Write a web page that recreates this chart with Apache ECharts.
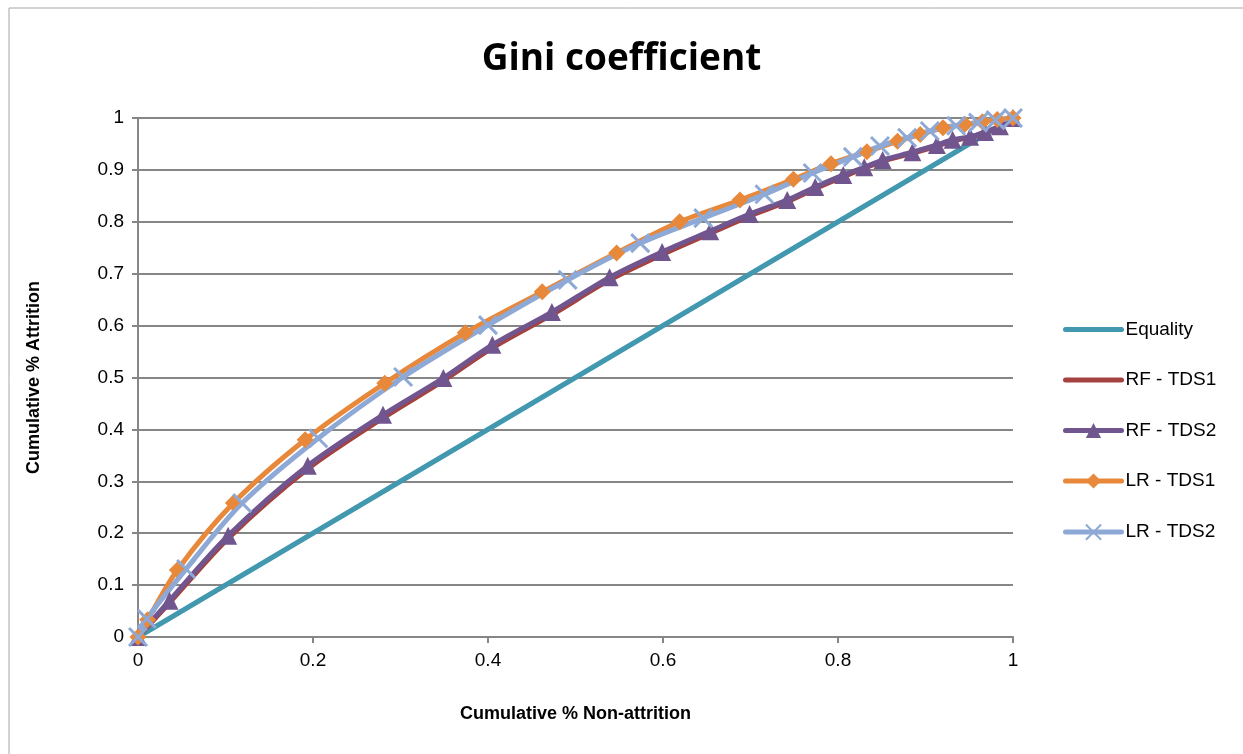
<!DOCTYPE html>
<html>
<head>
<meta charset="utf-8">
<script src="https://cdn.jsdelivr.net/npm/echarts@6/dist/echarts.min.js"></script>
<style>
  html, body { margin: 0; padding: 0; background: #fff; }
  #chart { width: 1243px; height: 754px; }
</style>
</head>
<body>
<div id="chart"></div>
<script>
// values: [cumulative % non-attrition, cumulative % attrition]
var equality = [[0, 0], [1, 1]];
var rfTds1 = [[0,0],[0.036,0.066],[0.103,0.19],[0.194,0.324],[0.28,0.422],[0.349,0.494],[0.405,0.557],[0.473,0.621],[0.539,0.688],[0.599,0.737],[0.654,0.778],[0.699,0.811],[0.742,0.839],[0.774,0.864],[0.806,0.887],[0.83,0.903],[0.851,0.917],[0.885,0.932],[0.913,0.946],[0.931,0.956],[0.951,0.963],[0.968,0.972],[0.985,0.983],[1,1]];
var rfTds2 = [[0,0],[0.036,0.07],[0.103,0.195],[0.194,0.33],[0.28,0.428],[0.349,0.499],[0.405,0.563],[0.473,0.626],[0.539,0.693],[0.599,0.742],[0.654,0.782],[0.699,0.815],[0.742,0.842],[0.774,0.867],[0.806,0.89],[0.83,0.905],[0.851,0.919],[0.885,0.934],[0.913,0.948],[0.931,0.958],[0.951,0.964],[0.968,0.973],[0.985,0.984],[1,1]];
var lrTds1 = [[0,0],[0.011,0.033],[0.045,0.129],[0.109,0.258],[0.191,0.38],[0.282,0.489],[0.374,0.586],[0.462,0.665],[0.547,0.74],[0.619,0.8],[0.688,0.842],[0.749,0.882],[0.792,0.912],[0.833,0.935],[0.868,0.955],[0.894,0.968],[0.92,0.981],[0.945,0.988],[0.965,0.993],[0.982,0.997],[1,1]];
var lrTds2 = [[0,0],[0.01,0.035],[0.055,0.131],[0.119,0.258],[0.206,0.383],[0.303,0.501],[0.4,0.601],[0.491,0.688],[0.574,0.759],[0.646,0.807],[0.716,0.853],[0.771,0.894],[0.817,0.925],[0.848,0.946],[0.879,0.962],[0.905,0.975],[0.935,0.985],[0.96,0.991],[0.98,0.996],[1,1]];

var seriesNames = ['Equality', 'RF - TDS1', 'RF - TDS2', 'LR - TDS1', 'LR - TDS2'];
var colors = ['#4198AF', '#A5423F', '#71558F', '#E8883A', '#8EA9D5'];
var crossPath = 'path://M0,0 L2,2 M2,0 L0,2';

var chart = echarts.init(document.getElementById('chart'));

function line(name, data, color, symbol, size) {
    return {
        name: name,
        type: 'line',
        data: data,
        smooth: 0.3,
        color: color,
        lineStyle: { width: 5, color: color, cap: 'round' },
        symbol: symbol || 'none',
        symbolSize: size || 0,
        showSymbol: !!symbol,
        itemStyle: { color: color, borderWidth: 0 },
        emphasis: { disabled: true },
        animation: false
    };
}

var lr2 = line(seriesNames[4], lrTds2, colors[4], crossPath, 18);
lr2.itemStyle = { color: 'none', borderColor: colors[4], borderWidth: 3 };

// the two plain lines get no marker in the legend
var legendData = seriesNames.map(function (n, i) {
    if (i < 2) return { name: n, itemStyle: { opacity: 0 } };
    return { name: n };
});

var option = {
    backgroundColor: '#fff',
    animation: false,
    textStyle: { fontFamily: 'Liberation Sans, Arial, sans-serif' },
    title: {
        text: 'Gini coefficient',
        left: 'center',
        top: 36,
        textStyle: { fontSize: 37, fontWeight: 'bold', color: '#000', fontFamily: 'Open Sans, Liberation Sans, sans-serif' }
    },
    graphic: [{
        type: 'rect',
        shape: { x: 9, y: 8, width: 1250, height: 770 },
        style: { fill: 'none', stroke: '#a6a6a6', lineWidth: 1 },
        silent: true
    }],
    legend: {
        orient: 'vertical',
        left: 1058,
        top: 315,
        itemGap: 31.5,
        itemWidth: 56,
        itemHeight: 19,
        data: legendData,
        lineStyle: { width: 'inherit', cap: 'round' },
        textStyle: { fontSize: 19, color: '#000', padding: [0, 0, 0, -1] }
    },
    grid: { left: 138, right: 230, top: 118, bottom: 117 },
    xAxis: {
        type: 'value',
        min: 0, max: 1, interval: 0.2,
        name: 'Cumulative % Non-attrition',
        nameLocation: 'middle',
        nameGap: 68,
        nameTextStyle: { fontSize: 18, fontWeight: 'bold', color: '#000' },
        axisLine: { show: true, lineStyle: { color: '#868686', width: 2 } },
        axisTick: { show: true, length: 6, lineStyle: { color: '#868686', width: 2 } },
        axisLabel: { fontSize: 19, color: '#000', margin: 14 },
        splitLine: { show: false }
    },
    yAxis: {
        type: 'value',
        min: 0, max: 1, interval: 0.1,
        name: 'Cumulative % Attrition',
        nameLocation: 'middle',
        nameGap: 95,
        nameTextStyle: { fontSize: 18, fontWeight: 'bold', color: '#000' },
        axisLine: { show: true, lineStyle: { color: '#868686', width: 2 } },
        axisTick: { show: true, length: 6, lineStyle: { color: '#868686', width: 2 } },
        axisLabel: { fontSize: 19, color: '#000', margin: 14 },
        splitLine: { show: true, lineStyle: { color: '#868686', width: 2 } }
    },
    series: [
        line(seriesNames[0], equality, colors[0]),
        line(seriesNames[1], rfTds1, colors[1]),
        line(seriesNames[2], rfTds2, colors[2], 'triangle', 18),
        line(seriesNames[3], lrTds1, colors[3], 'diamond', 17),
        lr2
    ]
};

chart.setOption(option);
</script>
</body>
</html>
